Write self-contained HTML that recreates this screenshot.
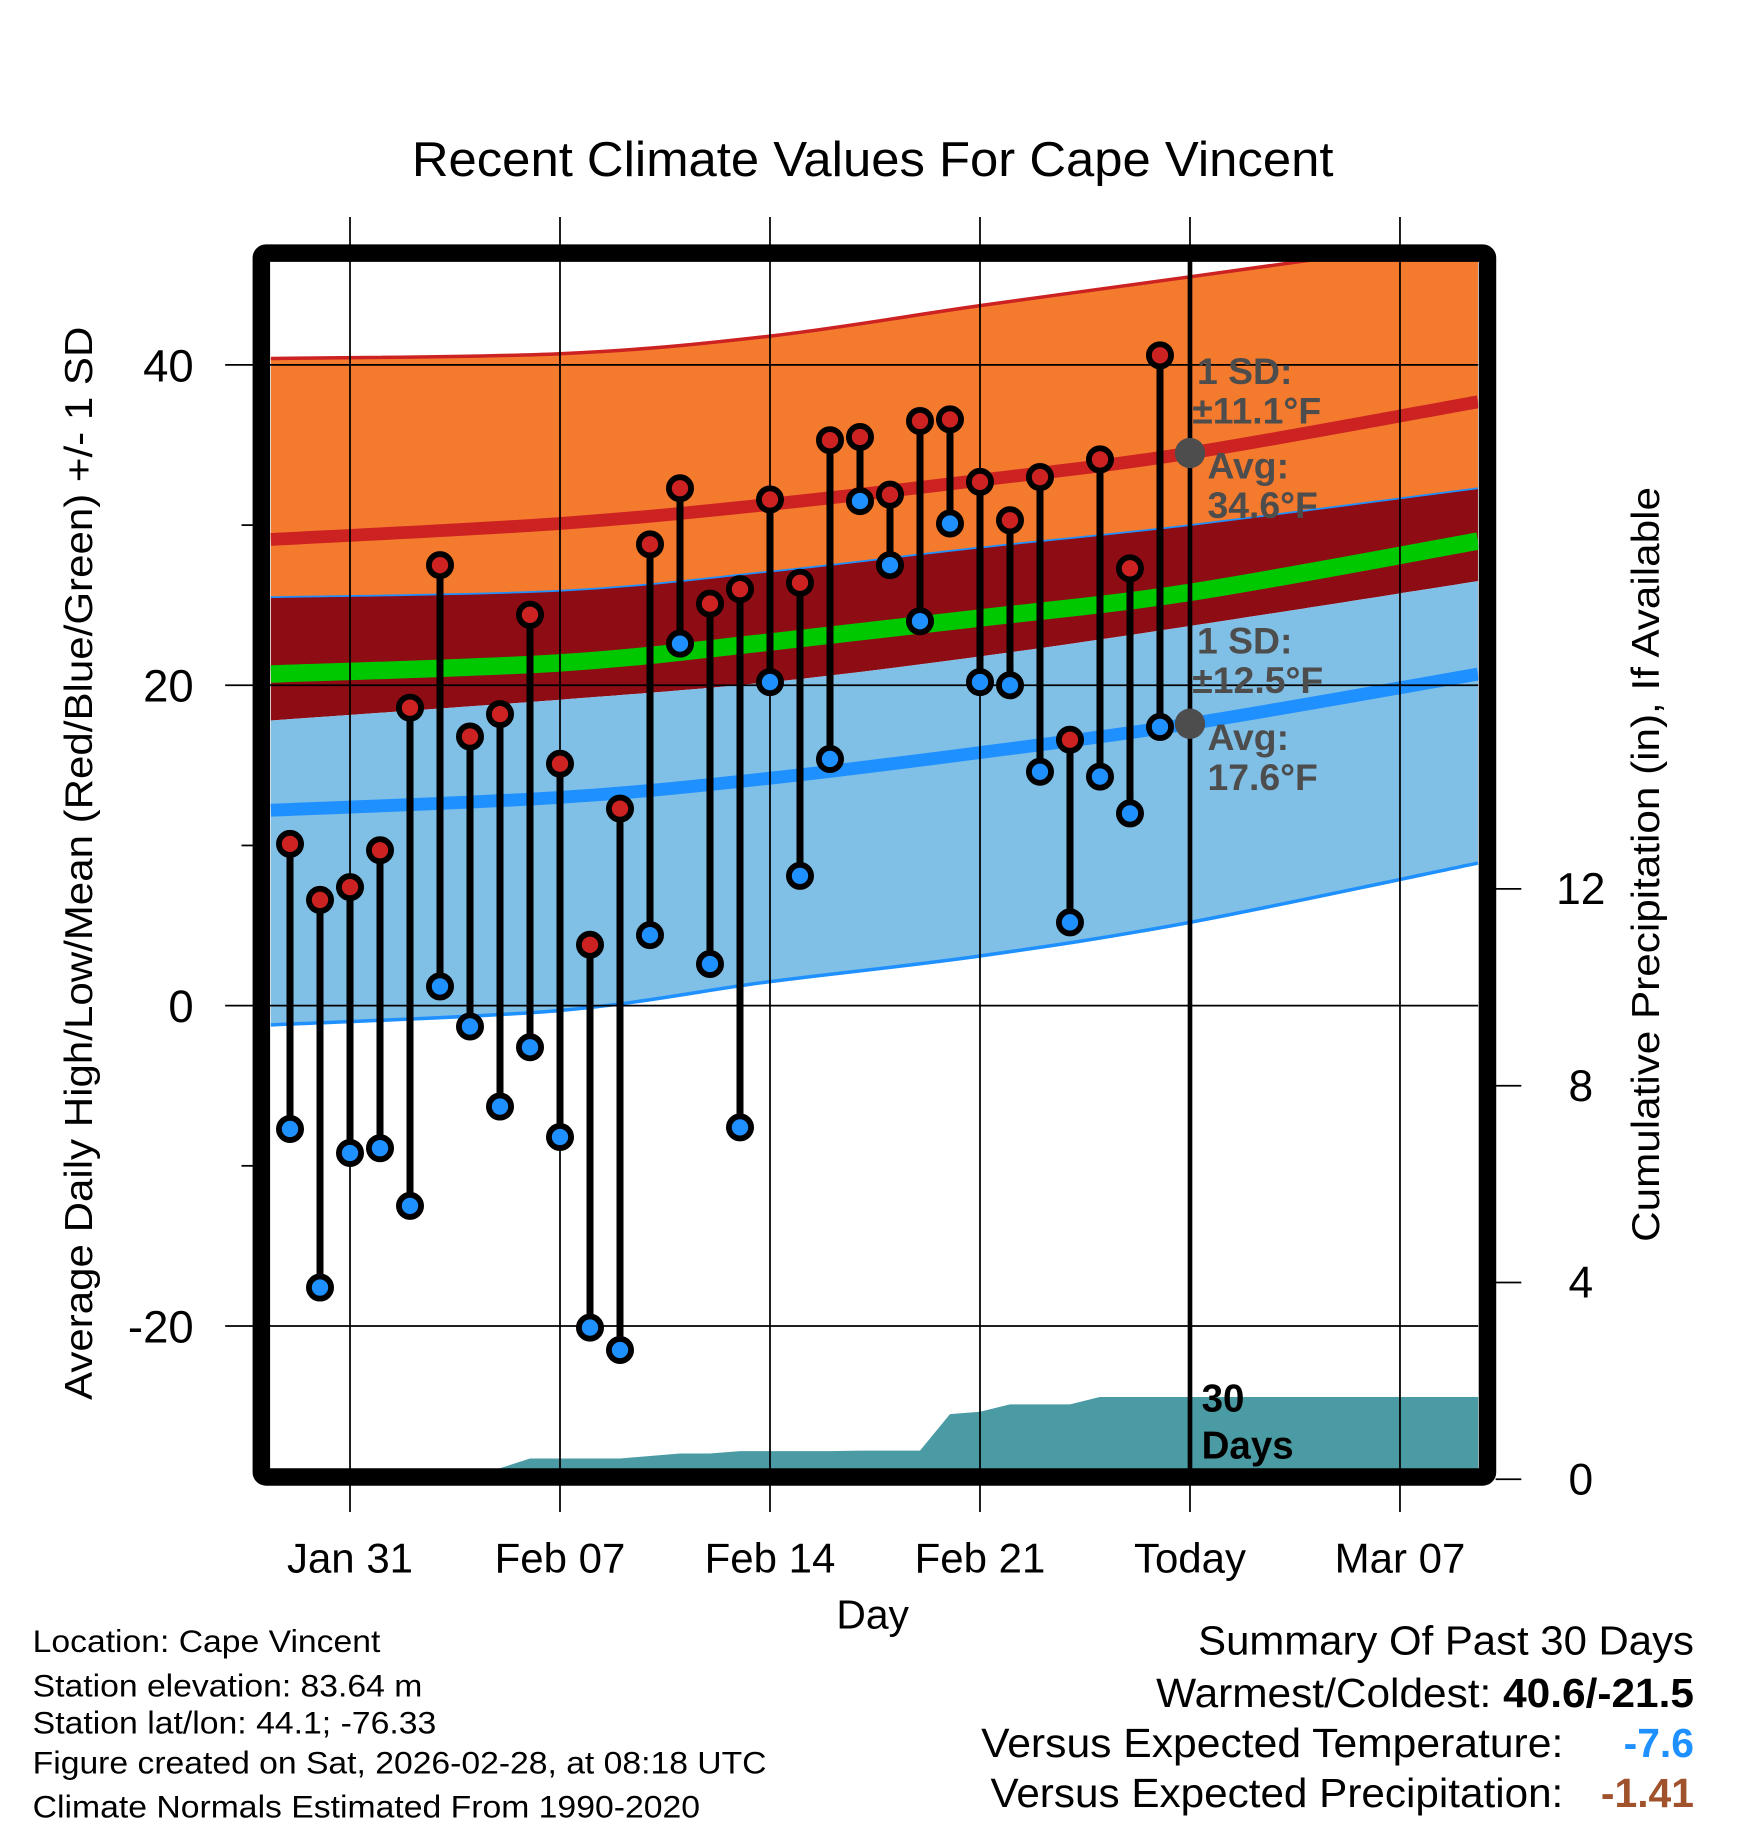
<!DOCTYPE html>
<html><head><meta charset="utf-8"><style>
html,body{margin:0;padding:0;background:#fff}
svg{display:block;font-family:"Liberation Sans",Arial,sans-serif}
</style></head><body>
<svg id="chart" width="1748" height="1828" viewBox="0 0 1498.3 1566.9" xmlns="http://www.w3.org/2000/svg">
<defs><clipPath id="plotclip"><rect x="232" y="218" width="1035" height="1041"/></clipPath></defs>
<text x="748" y="151" font-size="42" text-anchor="middle" textLength="790" lengthAdjust="spacingAndGlyphs">Recent Climate Values For Cape Vincent</text>
<g id="plot" clip-path="url(#plotclip)"></g>
<g id="grid"></g>
<g id="marks" clip-path="url(#plotclip)"></g>
<g id="annot"></g>
<rect x="224" y="217" width="1051" height="1049" rx="4" fill="none" stroke="#000" stroke-width="15"/>
<g id="axes"></g>
<text transform="translate(79,740) rotate(-90)" font-size="33" text-anchor="middle" textLength="920" lengthAdjust="spacingAndGlyphs">Average Daily High/Low/Mean (Red/Blue/Green) +/- 1 SD</text>
<text transform="translate(1422,741) rotate(-90)" font-size="33" text-anchor="middle" textLength="647" lengthAdjust="spacingAndGlyphs">Cumulative Precipitation (in), If Available</text>
<text x="748" y="1396" font-size="35" text-anchor="middle">Day</text>
<g font-size="27">
<text x="28" y="1416" textLength="298" lengthAdjust="spacingAndGlyphs">Location: Cape Vincent</text>
<text x="28" y="1454" textLength="334" lengthAdjust="spacingAndGlyphs">Station elevation: 83.64 m</text>
<text x="28" y="1486" textLength="346" lengthAdjust="spacingAndGlyphs">Station lat/lon: 44.1; -76.33</text>
<text x="28" y="1520" textLength="629" lengthAdjust="spacingAndGlyphs">Figure created on Sat, 2026-02-28, at 08:18 UTC</text>
<text x="28" y="1558" textLength="572" lengthAdjust="spacingAndGlyphs">Climate Normals Estimated From 1990-2020</text>
</g>
<g font-size="35">
<text x="1452" y="1418" text-anchor="end" textLength="425" lengthAdjust="spacingAndGlyphs">Summary Of Past 30 Days</text>
<text x="1452" y="1463" text-anchor="end" textLength="461" lengthAdjust="spacingAndGlyphs">Warmest/Coldest: <tspan font-weight="bold">40.6/-21.5</tspan></text>
<text x="1340" y="1506" text-anchor="end" textLength="499" lengthAdjust="spacingAndGlyphs">Versus Expected Temperature:</text>
<text x="1452" y="1506" text-anchor="end" fill="#1e90ff" font-weight="bold">-7.6</text>
<text x="1340" y="1549" text-anchor="end" textLength="491" lengthAdjust="spacingAndGlyphs">Versus Expected Precipitation:</text>
<text x="1452" y="1549" text-anchor="end" fill="#a0522d" font-weight="bold">-1.41</text>
</g>
</svg>
<script>
const days=[-2,-1,0,1,2,3,4,5,6,7,8,9,10,11,12,13,14,15,16,17,18,19,20,21,22,23,24,25,26,27];
const highs=[10.1,6.6,7.4,9.7,18.6,27.5,16.8,18.2,24.4,15.1,3.8,12.3,28.8,32.3,25.1,26.0,31.6,26.4,35.3,35.5,31.9,36.5,36.6,32.7,30.3,33.0,16.6,34.1,27.3,40.6];
const lows=[-7.7,-17.6,-9.2,-8.9,-12.5,1.2,-1.3,-6.3,-2.6,-8.2,-20.1,-21.5,4.4,22.6,2.6,-7.6,20.2,8.1,15.4,31.5,27.5,24.0,30.1,20.2,20.0,14.6,5.2,14.3,12.0,17.4];
const precip=[0,0,0,0,0,0,0,0.2,0.4,0.4,0.4,0.4,0.45,0.5,0.5,0.55,0.55,0.55,0.55,0.56,0.56,0.56,1.3,1.35,1.5,1.5,1.5,1.65,1.65,1.65];
const normDays=[-2.64,7,14,21,28,37.6];
const highPlusSD=[40.4,40.7,41.8,43.7,45.5,48.0];
const highMean=[29.1,30.1,31.3,32.8,34.5,37.7];
const highMinusSD=[25.5,25.9,27.1,28.6,30.0,32.3];
const lowPlusSD=[17.8,19.1,20.2,21.8,23.7,26.5];
const avgMean=[20.7,21.4,22.7,24.2,25.8,29.0];
const lowMean=[12.2,13.0,14.2,15.8,17.6,20.7];
const lowMinusSD=[-1.2,-0.3,1.5,3.1,5.2,8.9];
const yTicks=[-20,0,20,40];
const yMinor=[-10,10,30];
const y2Ticks=[0,4,8,12];
const xTickDays=[0,7,14,21,28,35];
const xTickLabels=["Jan 31","Feb 07","Feb 14","Feb 21","Today","Mar 07"];
const todayDay=28;

const NS="http://www.w3.org/2000/svg";
const X=d=>300+d*(180/7);
const Y=t=>862-t*13.73;
const Y2=p=>1267-p*42.17;
function mk(tag,attrs,parent){const e=document.createElementNS(NS,tag);for(const k in attrs)e.setAttribute(k,attrs[k]);parent.appendChild(e);return e;}
function pts(vals){return normDays.map((d,i)=>[X(d),Y(vals[i])]);}
function crPath(p,move){let s=move?`M${p[0][0]},${p[0][1]}`:`L${p[0][0]},${p[0][1]}`;
 for(let i=0;i<p.length-1;i++){const p0=p[i-1]||p[i],p1=p[i],p2=p[i+1],p3=p[i+2]||p[i+1];
  s+=` C${p1[0]+(p2[0]-p0[0])/6},${p1[1]+(p2[1]-p0[1])/6} ${p2[0]-(p3[0]-p1[0])/6},${p2[1]-(p3[1]-p1[1])/6} ${p2[0]},${p2[1]}`;}
 return s;}
function band(a,b){const pa=pts(a),pb=pts(b).reverse();return crPath(pa,true)+' '+crPath(pb,false)+' Z';}
const plot=document.getElementById('plot');
let e;
e=mk('path',{d:band(highPlusSD,highMinusSD),fill:'#f47a2d'},plot);

e=mk('path',{d:band(highMinusSD,lowPlusSD),fill:'#8e0c14'},plot);

e=mk('path',{d:band(lowPlusSD,lowMinusSD),fill:'#80bfe6'},plot);

e=mk('path',{d:crPath(pts(highPlusSD),true),fill:'none',stroke:'#cc2222',"stroke-width":3},plot);

e=mk('path',{d:crPath(pts(highMinusSD),true),fill:'none',stroke:'#1e90ff',"stroke-width":1.5},plot);

e=mk('path',{d:crPath(pts(lowMinusSD),true),fill:'none',stroke:'#1e90ff',"stroke-width":3},plot);

e=mk('path',{d:crPath(pts(highMean),true),fill:'none',stroke:'#cc2222',"stroke-width":11},plot);

e=mk('path',{d:crPath(pts(avgMean),true),fill:'none',stroke:'#00c800',"stroke-width":15},plot);

e=mk('path',{d:crPath(pts(lowMean),true),fill:'none',stroke:'#1e90ff',"stroke-width":11},plot);

let pd=`M232,${Y2(0)} L232,${Y2(0)}`;
days.forEach((d,i)=>{pd+=` L${X(d)},${Y2(precip[i])}`;});
pd+=` L1270,${Y2(precip[precip.length-1])} L1270,${Y2(0)} Z`;
e=mk('path',{d:pd,fill:'#4a9ba3'},plot);


const grid=document.getElementById('grid');
yTicks.forEach(t=>{e=mk('line',{x1:193,x2:1267,y1:Y(t),y2:Y(t),stroke:'#000',"stroke-width":1.5},grid);
 });
xTickDays.forEach(d=>{e=mk('line',{x1:X(d),x2:X(d),y1:186,y2:1296,stroke:'#000',"stroke-width":1.5},grid);
 });

const marks=document.getElementById('marks');
days.forEach((d,i)=>{
 e=mk('line',{x1:X(d),x2:X(d),y1:Y(highs[i]),y2:Y(lows[i]),stroke:'#000',"stroke-width":6},marks);
 
});
days.forEach((d,i)=>{
 e=mk('circle',{cx:X(d),cy:Y(highs[i]),r:9.5,fill:'#cc2222',stroke:'#000',"stroke-width":5},marks);
 
 e=mk('circle',{cx:X(d),cy:Y(lows[i]),r:9.5,fill:'#1e90ff',stroke:'#000',"stroke-width":5},marks);
 
});
e=mk('line',{x1:X(todayDay),x2:X(todayDay),y1:218,y2:1262,stroke:'#000',"stroke-width":4},marks);


const an=document.getElementById('annot');
const tx=X(todayDay);
e=mk('circle',{cx:tx,cy:Y(highMean[4]),r:13,fill:'#4d4d4d'},an);

e=mk('circle',{cx:tx,cy:Y(lowMean[4]),r:13,fill:'#4d4d4d'},an);

const labels=[["1 SD:",1026,329,"high-sd-label"],["±11.1°F",1022,363,"high-sd-value"],["Avg:",1035,410,"high-avg-label"],["34.6°F",1035,444,"high-avg-value"],
["1 SD:",1026,560,"low-sd-label"],["±12.5°F",1022,594,"low-sd-value"],["Avg:",1035,643,"low-avg-label"],["17.6°F",1035,677,"low-avg-value"]];
labels.forEach(l=>{e=mk('text',{x:l[1],y:l[2],"font-size":32,"font-weight":"bold",fill:'#4d4d4d'},an);e.textContent=l[0];
 });
e=mk('text',{x:1030,y:1210,"font-size":33,"font-weight":"bold"},an);e.textContent="30";

e=mk('text',{x:1030,y:1250,"font-size":33,"font-weight":"bold"},an);e.textContent="Days";


const ax=document.getElementById('axes');
yTicks.forEach(t=>{e=mk('text',{x:166,y:Y(t)+14,"font-size":39,"text-anchor":"end"},ax);e.textContent=t;
 });
yMinor.forEach(t=>{e=mk('line',{x1:207,x2:217,y1:Y(t),y2:Y(t),stroke:'#000',"stroke-width":1.5},ax);
 });
y2Ticks.forEach(p=>{e=mk('line',{x1:1282,x2:1304,y1:Y2(p)+1,y2:Y2(p)+1,stroke:'#000',"stroke-width":1.5},ax);
 
 e=mk('text',{x:1355,y:Y2(p)+14,"font-size":38,"text-anchor":"middle"},ax);e.textContent=p;
 });
xTickDays.forEach((d,i)=>{e=mk('text',{x:X(d),y:1348,"font-size":36,"text-anchor":"middle"},ax);e.textContent=xTickLabels[i];
 });
</script>
</body></html>
